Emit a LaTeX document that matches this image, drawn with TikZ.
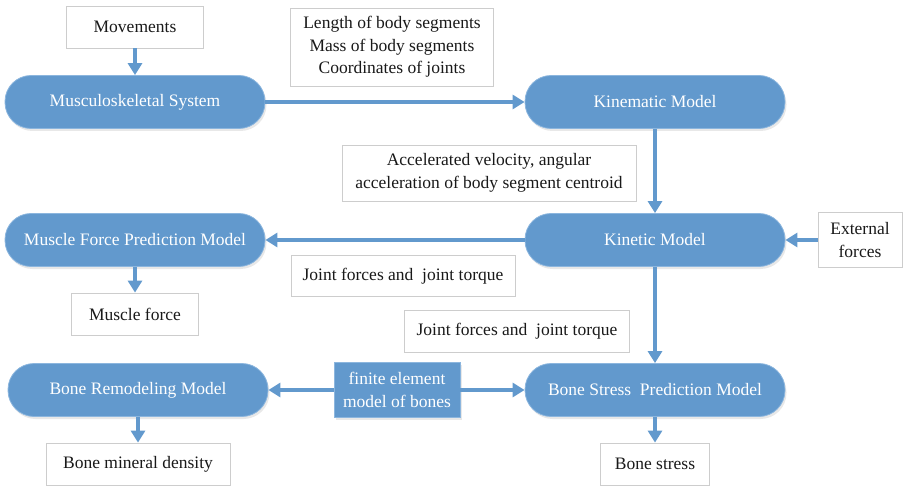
\documentclass[tikz,border=0pt]{standalone}
\usepackage{fontspec}
\setmainfont{Liberation Serif}
\usetikzlibrary{arrows.meta,shadows}
\definecolor{mdblue}{RGB}{98,153,205}
\definecolor{mdedge}{RGB}{140,182,222}
\definecolor{mdgray}{RGB}{205,205,205}
\definecolor{mdtext}{RGB}{25,25,25}

\begin{document}
\begin{tikzpicture}[x=1pt,y=-1pt,
  model/.style={draw=mdedge,line width=0.8pt,fill=mdblue,rounded corners=26pt,minimum width=260pt,minimum height=53pt,text=white,font=\fontsize{17.5}{22}\selectfont,drop shadow={opacity=0.18,shadow xshift=1.5pt,shadow yshift=-2.5pt}},
  info/.style={draw=mdgray,line width=0.8pt,fill=white,text=mdtext,align=center,inner sep=0pt,font=\fontsize{17.5}{22.5}\selectfont},
  flow/.style={-{Triangle[width=14pt,length=12pt]},mdblue,line width=3.5pt}]
  \useasboundingbox (0,0) rectangle (904,486);
  % Models
  \node[model] (msk) at (135,102) {Musculoskeletal System};
  \node[model] (kinem) at (655,102) {Kinematic Model};
  \node[model] (kinet) at (655,240) {Kinetic Model};
  \node[model] (mfp) at (135,240) {Muscle Force Prediction Model};
  \node[model] (brm) at (138,390) {Bone Remodeling Model};
  \node[model] (bsp) at (655,390) {Bone Stress~ Prediction Model};
  \node[model,rounded corners=0pt,minimum width=126pt,minimum height=55pt,align=center,font=\fontsize{17.5}{22.5}\selectfont] (fem) at (397,390) {finite element\\model of bones};
  % Inputs and outputs
  \node[info,minimum width=137pt,minimum height=42pt] (mov) at (135,27) {Movements};
  \node[info,minimum width=203pt,minimum height=78pt] (seg) at (392,47) {Length of body segments\\Mass of body segments\\Coordinates of joints};
  \node[info,minimum width=294pt,minimum height=56pt] (acc) at (489,173) {Accelerated velocity, angular\\acceleration of body segment centroid};
  \node[info,minimum width=84pt,minimum height=55pt] (ext) at (860,240) {External\\forces};
  \node[info,minimum width=224pt,minimum height=41pt] (jf1) at (403,276) {Joint forces and~ joint torque};
  \node[info,minimum width=127pt,minimum height=42pt] (mf) at (135,314) {Muscle force};
  \node[info,minimum width=225pt,minimum height=42pt] (jf2) at (517,331) {Joint forces and~ joint torque};
  \node[info,minimum width=184pt,minimum height=42pt] (bmd) at (138,464) {Bone mineral density};
  \node[info,minimum width=109pt,minimum height=42pt] (bs) at (655,464) {Bone stress};
  % Arrows
  \draw[flow] (mov) -- (msk);
  \draw[flow] (msk) -- (kinem);
  \draw[flow] (kinem) -- (kinet);
  \draw[flow] (ext) -- (kinet);
  \draw[flow] (kinet) -- (mfp);
  \draw[flow] (mfp) -- (mf);
  \draw[flow] (kinet) -- (bsp);
  \draw[flow] (fem) -- (brm);
  \draw[flow] (fem) -- (bsp);
  \draw[flow] (brm) -- (bmd);
  \draw[flow] (bsp) -- (bs);
\end{tikzpicture}
\end{document}
